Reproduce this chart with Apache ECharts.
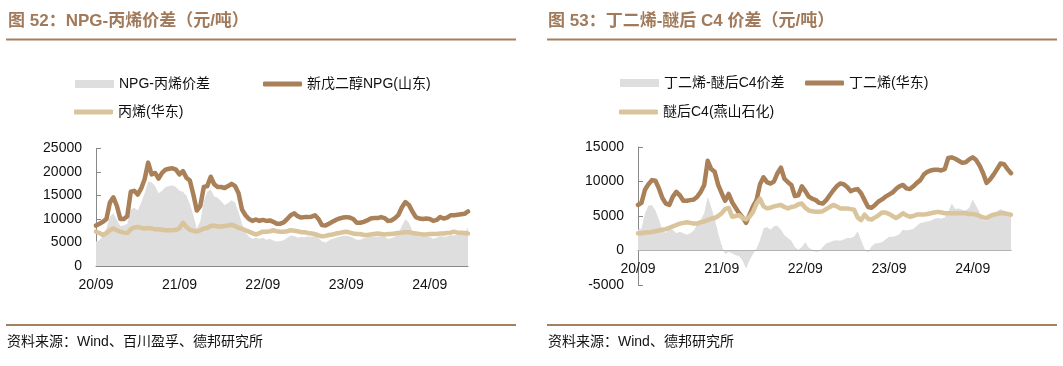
<!DOCTYPE html>
<html><head><meta charset="utf-8">
<script src="https://cdn.jsdelivr.net/npm/echarts@6/dist/echarts.min.js"></script>
<style>html,body{margin:0;padding:0;background:#fff}#c{width:1063px;height:366px}</style>
</head><body><div id="c"></div>
<script>
// ---- data (semi-monthly points from 2020-09-01) ----
const categories = [];
(function(){ let y=2020, m=9; while(categories.length<108){ const mm=(m<10?'0':'')+m; categories.push(y+'-'+mm+'-01'); categories.push(y+'-'+mm+'-16'); m++; if(m>12){m=1;y++;} } })();
const tickLabels = ['20/09','21/09','22/09','23/09','24/09'];

const npgSpread = [5200,5500,6500,8000,10500,11200,9800,8500,8600,9000,
12000,12400,11800,13500,15500,18000,17800,17000,15500,16000,
16800,17000,17200,16800,16000,15800,15000,13200,10800,8000,
9500,13800,15800,16300,14800,14500,13800,13000,13400,14000,
13500,11500,9000,7200,6200,5800,6000,5800,6000,5600,
5800,5400,5200,5300,5500,6000,6500,6400,6000,6200,
6100,6300,6200,6400,6000,5200,5000,5400,5800,6000,
6200,6400,6500,6300,6000,5600,5600,5900,6100,6300,
6300,6200,6400,6200,5800,5900,6200,7000,8500,10000,
9200,7500,6500,6300,6200,6300,6200,5800,6000,6400,
6200,6300,6600,6500,6700,6800,7000,8200];
const npgPrice = [8600,9000,9400,10000,13500,14600,12800,10000,10000,10600,
15800,16000,15200,16500,18500,22000,19500,19800,18600,19800,
20500,20700,20800,20500,19500,20200,18800,18200,15200,11800,
12800,16800,17000,19000,17400,16800,16800,16600,17000,17500,
17000,15500,12000,10800,10000,9600,9900,9600,9800,9600,
9700,9400,9000,9000,9300,10000,10800,11200,10600,10300,
10400,10400,10500,10800,10000,8700,8600,9000,9400,9800,
10100,10300,10400,10300,10000,9200,9200,9400,9700,10100,
10200,10200,10400,10200,9600,9700,10200,10900,12500,13600,
13000,11600,10400,10100,10000,10100,10000,9600,9800,10400,
10100,10300,10800,10800,10900,11000,11100,11600];
const propylene = [7300,7000,6600,7000,7600,8000,7600,7300,7100,7000,
7800,8200,8300,8100,8000,8100,8000,7800,7800,7700,
7600,7600,7600,7700,8000,9200,8300,7700,7500,7300,
7600,8000,8100,8500,8600,8400,8400,8500,8600,8800,
8500,8100,7900,7600,7300,7000,6700,7000,7300,7300,
7400,7600,7400,7300,7300,7400,7600,7500,7400,7200,
7200,7000,6900,6800,6500,6300,6400,6600,6700,6900,
7000,7200,7300,7100,6900,6800,6800,6600,6600,6700,
6800,6900,6800,6700,6800,6800,6900,7000,7100,7200,
7200,7000,6900,6800,6700,6700,6800,6800,6800,6900,
6900,7000,7100,7300,7100,7100,7000,6900];

const bdSpread = [3000,3200,5400,6500,6600,5800,4500,3000,2500,3400,
3000,2500,2700,2500,2300,2500,2900,3800,4500,5400,
7800,6300,4600,2500,700,-500,-200,-400,-700,-800,
-1500,-2600,-1400,-500,300,1500,3200,3400,3000,3500,
3600,3000,2200,1800,1400,500,100,500,1200,400,
100,-200,-100,500,1000,1200,1400,1500,1400,1600,
1800,1800,2000,2800,1500,200,-300,600,1000,1100,
1200,1600,2000,2000,2100,2400,3000,2900,3000,3100,
3600,4000,4100,4200,4300,4600,4700,4600,4800,5600,
6800,6000,6100,5900,5800,6200,7400,6500,5500,4400,
4300,4600,5200,5700,6000,5800,5400,5000];
const butadiene = [6600,6900,8800,9600,10200,10100,9000,7600,6800,6600,
7800,8500,8000,7200,7200,7300,7400,7800,8500,9500,
13000,11800,11400,9500,8300,7200,8200,7000,6200,5400,
4800,4000,5200,6400,7300,9600,10600,9900,9700,10000,
11200,12000,10400,9900,9500,7900,8000,9300,8600,7800,
7500,7300,6900,6800,7300,8000,8700,9300,9700,9600,
9200,8600,8800,8900,8300,7300,6300,6200,6600,7100,
7400,7800,8100,8400,8900,9300,9500,9000,8900,9300,
9800,10200,11000,11400,11600,11700,11700,11600,11800,13400,
13500,13300,13000,12700,12800,13200,13500,13100,12300,11200,
9800,10300,11000,11800,12600,12500,11800,11200];
const c4Raffinate = [2500,2500,2600,2600,2700,2800,2900,3000,3100,3300,
3500,3700,3900,4000,4100,4000,3900,3900,4100,4200,
4400,4600,4700,5000,5400,6000,6200,4900,5000,5100,
4700,4500,4900,5600,6800,7500,6400,6100,6200,6400,
6500,6600,6300,6100,6300,6400,6700,6800,6200,5800,
5700,5600,5600,5700,6000,6300,6600,6400,6100,6100,
6100,6000,5900,4800,4400,5200,4600,4500,4800,5100,
5500,5500,5300,5000,4700,5000,5400,5100,4900,5000,
5200,5200,5200,5300,5400,5500,5600,5500,5400,5400,
5400,5400,5400,5400,5400,5300,5300,5200,5000,4800,
4700,5000,5200,5300,5400,5400,5300,5200];

// ---- styling ----
const C_GRAY = '#DEDEDE', C_BROWN = '#A98058', C_TAN = '#D9C49C', C_TITLE = '#A07A5A';
const FONT = '"Liberation Sans","Noto Sans CJK SC",sans-serif';
const isTick = (i, v) => tickLabels.indexOf(v.slice(2,4)+'/'+v.slice(5,7)) >= 0 && v.slice(8) === '01';

function xAxis(gridIndex, offset){
  return {type:'category', gridIndex, data:categories, boundaryGap:false, offset,
    axisLine:{onZero:false, lineStyle:{color:'#888', width:1}},
    axisTick:{inside:true, length:5, interval:isTick, lineStyle:{color:'#888'}},
    axisLabel:{interval:isTick, margin:12, color:'#111', fontSize:14, fontFamily:FONT,
      formatter:v => v.slice(2,4)+'/'+v.slice(5,7)},
    splitLine:{show:false}};
}
function yAxis(gridIndex, min, max){
  return {type:'value', gridIndex, min, max, interval:5000,
    axisLine:{show:true, lineStyle:{color:'#888', width:1}},
    axisTick:{show:true, inside:true, length:5, lineStyle:{color:'#888'}},
    axisLabel:{color:'#111', fontSize:14, fontFamily:FONT, margin:14, formatter:v => String(v)},
    splitLine:{show:false}};
}
function lineSeries(name, data, color, idx, z){
  return {name, type:'line', data, xAxisIndex:idx, yAxisIndex:idx, symbol:'none', z,
    color, lineStyle:{color, width:4.5, cap:'round', join:'round'}};
}
function areaSeries(name, data, idx){
  return {name, type:'line', data, xAxisIndex:idx, yAxisIndex:idx, symbol:'none', z:1,
    color:C_GRAY, lineStyle:{width:0, color:C_GRAY}, areaStyle:{color:C_GRAY, opacity:1}};
}
function legend(name, left, top, color, icon, h){
  return {data:[{name, itemStyle:{color, borderWidth:0}}], left, top, padding:0, icon,
    itemWidth:39, itemHeight:h, itemStyle:{borderWidth:0},
    textStyle:{color:'#111', fontSize:14, fontFamily:FONT}, selectedMode:false};
}

const chart = echarts.init(document.getElementById('c'), null, {renderer:'canvas'});
chart.setOption({
  animation:false,
  grid:[
    {left:96, top:148.5, width:372, height:117.5},
    {left:638, top:147, width:373, height:138}
  ],
  xAxis:[xAxis(0, 0), xAxis(1, -34.5)],
  yAxis:[yAxis(0,0,25000), yAxis(1,-5000,15000)],
  legend:[
    legend('NPG-丙烯价差', 75, 77, C_GRAY, 'rect', 8),
    legend('新戊二醇NPG(山东)', 263, 77, C_BROWN, 'roundRect', 5),
    legend('丙烯(华东)', 74, 105, C_TAN, 'roundRect', 5),
    legend('丁二烯-醚后C4价差', 620, 76, C_GRAY, 'rect', 8),
    legend('丁二烯(华东)', 805, 76, C_BROWN, 'roundRect', 5),
    legend('醚后C4(燕山石化)', 619, 105, C_TAN, 'roundRect', 5)
  ],
  series:[
    areaSeries('NPG-丙烯价差', npgSpread, 0),
    lineSeries('新戊二醇NPG(山东)', npgPrice, C_BROWN, 0, 3),
    lineSeries('丙烯(华东)', propylene, C_TAN, 0, 4),
    areaSeries('丁二烯-醚后C4价差', bdSpread, 1),
    lineSeries('丁二烯(华东)', butadiene, C_BROWN, 1, 3),
    lineSeries('醚后C4(燕山石化)', c4Raffinate, C_TAN, 1, 4)
  ],
  graphic:[
    {type:'text', left:8, top:13, style:{text:'图 52：NPG-丙烯价差（元/吨）', fill:C_TITLE, font:'bold 17px '+FONT}},
    {type:'text', left:548, top:13, style:{text:'图 53：丁二烯-醚后 C4 价差（元/吨）', fill:C_TITLE, font:'bold 17px '+FONT}},
    {type:'line', shape:{x1:6, y1:39.5, x2:516, y2:39.5}, style:{stroke:'#A5805F', lineWidth:2}},
    {type:'line', shape:{x1:547, y1:39.5, x2:1057, y2:39.5}, style:{stroke:'#A5805F', lineWidth:2}},
    {type:'line', shape:{x1:6, y1:325, x2:516, y2:325}, style:{stroke:'#A5805F', lineWidth:2}},
    {type:'line', shape:{x1:547, y1:325, x2:1057, y2:325}, style:{stroke:'#A5805F', lineWidth:2}},
    {type:'text', left:7, top:335, style:{text:'资料来源：Wind、百川盈孚、德邦研究所', fill:'#111', font:'14px '+FONT}},
    {type:'text', left:548, top:335, style:{text:'资料来源：Wind、德邦研究所', fill:'#111', font:'14px '+FONT}}
  ]
});
</script>
</body></html>
